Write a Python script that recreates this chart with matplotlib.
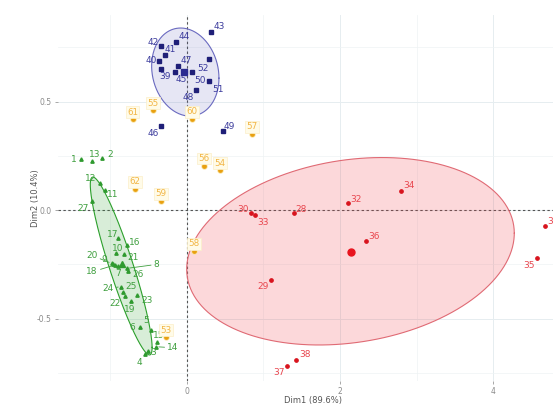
import numpy as np
import matplotlib
matplotlib.use("Agg")
import matplotlib.pyplot as plt

# ---------------- data ----------------
green_ids = list(range(1, 28))
green_x = [-1.386, -1.107, -0.510, -0.549, -0.471, -0.614, -0.902, -0.788, -0.967, -0.932,
           -1.072, -1.137, -1.238, -0.405, -0.396, -0.788, -0.898, -0.941, -0.732, -0.984,
           -0.820, -0.810, -0.658, -0.863, -0.833, -0.767, -1.246]
green_y = [0.235, 0.238, -0.650, -0.664, -0.553, -0.539, -0.258, -0.269, -0.249, -0.200,
           0.092, 0.123, 0.227, -0.630, -0.607, -0.161, -0.130, -0.253, -0.418, -0.246,
           -0.203, -0.396, -0.392, -0.353, -0.376, -0.280, 0.043]

red_ids = list(range(28, 39))
red_x = [1.403, 1.098, 0.837, 4.680, 2.108, 0.889, 2.797, 4.579, 2.340, 1.303, 1.421]
red_y = [-0.015, -0.323, -0.015, -0.074, 0.031, -0.023, 0.089, -0.223, -0.143, -0.718, -0.691]

blue_ids = list(range(39, 53))
blue_x = [-0.340, -0.366, -0.284, -0.340, 0.310, -0.144, -0.153, -0.344, -0.122, 0.114,
          0.467, 0.069, 0.288, 0.288]
blue_y = [0.650, 0.687, 0.714, 0.756, 0.822, 0.773, 0.637, 0.387, 0.665, 0.552,
          0.365, 0.635, 0.594, 0.696]

orange_ids = list(range(53, 63))
orange_x = [-0.275, 0.427, -0.441, 0.218, 0.850, 0.092, -0.340, 0.069, -0.710, -0.676]
orange_y = [-0.587, 0.183, 0.459, 0.204, 0.350, -0.189, 0.041, 0.419, 0.418, 0.097]

centroid_x = {"green": -0.846, "blue": -0.043, "red": 2.140}
centroid_y = {"green": -0.249, "blue": 0.637, "red": -0.192}

# ellipse parameters: centre, half-width, half-height, y-offset at rightmost point
ellipses = {
    "green": (-0.86, -0.258, 0.404, 0.410, -0.375),
    "blue": (-0.022, 0.636, 0.440, 0.203, -0.028),
    "red": (2.137, -0.190, 2.141, 0.432, 0.083),
}

x_ticks = [0, 2, 4]
x_tick_labels = ["0", "2", "4"]
y_ticks = [-0.5, 0.0, 0.5]
y_tick_labels = ["-0.5", "0.0", "0.5"]
x_title = "Dim1 (89.6%)"
y_title = "Dim2 (10.4%)"

# label offsets in pixels (dx right, dy down)
label_off = {
    1: (-7, 0), 2: (8, -4), 3: (5, 1), 4: (-6, 8), 5: (-5, -10), 6: (-8, 1), 7: (0, 7),
    8: (30, -4), 9: (-9, -5), 10: (2, -5), 11: (8, 4), 12: (-9, -5), 13: (2, -6),
    14: (17, 1), 15: (2, -6), 16: (8, -2), 17: (-6, -4), 18: (-23, 7), 19: (-1, 9),
    20: (-20, -8), 21: (9, 3), 22: (-10, 8), 23: (10, 5), 24: (-13, 2), 25: (8, -5),
    26: (10, 4), 27: (-9, 8),
    28: (7, -4), 29: (-8, 6), 30: (-8, -4), 31: (8, -5), 32: (8, -4), 33: (8, 7),
    34: (8, -5), 35: (-8, 7), 36: (8, -5), 37: (-8, 7), 38: (9, -5),
    39: (4, 7), 40: (-8, 0), 41: (5, -6), 42: (-8, -4), 43: (9, -5), 44: (8, -6),
    45: (6, 8), 46: (-7, 7), 47: (9, -5), 48: (-7, 7), 49: (7, -4), 50: (8, 8),
    51: (9, 8), 52: (-6, 9),
}
leader_ids = {8, 14, 18, 20, 24}

# ---------------- style ----------------
col = {
    "green": ("#2f9a2f", "#3f9f3f", "#2ca02c"),
    "blue": ("#1f1f78", "#3b3b9c", "#6a6ac0"),
    "red": ("#d8141e", "#e8464e", "#e06a74"),
    "orange": ("#e8a010", "#f2b544", None),
}
fills = {"green": "#2ca02c", "blue": "#5a5ab8", "red": "#f0404a"}
alphas = {"green": 0.18, "blue": 0.15, "red": 0.2}

W, H = 553, 405
fig = plt.figure(figsize=(W / 100, H / 100), dpi=100)
left_px, right_px, top_px, bot_px = 58, 553, 15, 381
ax = fig.add_axes([left_px / W, 1 - bot_px / H, (right_px - left_px) / W, (bot_px - top_px) / H])
ax.set_xlim(-1.686, 4.784)
ax.set_ylim(-0.788, 0.899)

for s in ax.spines.values():
    s.set_visible(False)

ax.set_xticks(x_ticks)
ax.set_xticklabels(x_tick_labels)
ax.set_yticks(y_ticks)
ax.set_yticklabels(y_tick_labels)
ax.set_xticks([-1, 1, 3], minor=True)
ax.set_yticks([-0.75, -0.25, 0.25, 0.75], minor=True)
ax.tick_params(which="major", length=2.5, width=0.6, color="#9a9a9a", labelsize=5.5,
               labelcolor="#8a8a8a", pad=2)
ax.tick_params(which="minor", length=0)
ax.grid(which="major", color="#e6edf0", lw=0.7)
ax.grid(which="minor", color="#eef3f4", lw=0.5)
ax.set_axisbelow(True)

ax.axhline(0, color="#555555", lw=0.8, ls=(0, (2.2, 2.2)), zorder=1)
ax.axvline(0, color="#555555", lw=0.8, ls=(0, (2.2, 2.2)), zorder=1)

ax.set_xlabel(x_title, fontsize=6, color="#555555")
ax.set_ylabel(y_title, fontsize=6, color="#555555")
ax.xaxis.set_label_coords((313 - left_px) / (right_px - left_px), -14.5 / (bot_px - top_px))
ax.yaxis.set_label_coords((40 - left_px) / (right_px - left_px), 0.5)

t = np.linspace(0, 2 * np.pi, 300)
for key, (cx, cy, hw, hh, a) in ellipses.items():
    b = np.sqrt(hh ** 2 - a ** 2)
    ex = cx + hw * np.cos(t)
    ey = cy + a * np.cos(t) + b * np.sin(t)
    ax.fill(ex, ey, facecolor=fills[key], alpha=alphas[key], edgecolor="none", zorder=2)
    ax.plot(ex, ey, color=col[key][2], lw=0.8, zorder=3)

def px2pt(dx, dy):
    return dx * 0.72, -dy * 0.72

groups = [
    ("green", green_ids, green_x, green_y, "^", 2.4),
    ("red", red_ids, red_x, red_y, "o", 2.4),
    ("blue", blue_ids, blue_x, blue_y, "s", 2.2),
]
for key, ids, xs, ys, mk, ms in groups:
    ax.plot(xs, ys, ls="none", marker=mk, ms=ms, color=col[key][0], zorder=4)
    for i, x, y in zip(ids, xs, ys):
        dx, dy = label_off[i]
        ox, oy = px2pt(dx, dy)
        ap = None
        if i in leader_ids:
            ap = dict(arrowstyle="-", color=col[key][1], lw=0.6, shrinkA=0, shrinkB=2)
        ax.annotate(str(i), (x, y), xytext=(ox, oy), textcoords="offset points",
                    ha="center", va="center", fontsize=6.5, color=col[key][1],
                    arrowprops=ap, zorder=5, annotation_clip=False)

ax.plot(orange_x, orange_y, ls="none", marker="o", ms=3.6, color="#fbe3a0", zorder=4)
ax.plot(orange_x, orange_y, ls="none", marker="o", ms=2.4, color=col["orange"][0], zorder=4)
for i, x, y in zip(orange_ids, orange_x, orange_y):
    ax.annotate(str(i), (x, y), xytext=(0, 5.2), textcoords="offset points",
                ha="center", va="center", fontsize=6.3, color=col["orange"][1], zorder=5,
                bbox=dict(boxstyle="square,pad=0.15", fc="#fffbe8", ec="#fbefc8", lw=0.5))

ax.plot([centroid_x["green"]], [centroid_y["green"]], marker="^", ms=5, color=col["green"][0], zorder=5)
ax.plot([centroid_x["blue"]], [centroid_y["blue"]], marker="s", ms=5, color="#2a2a90", zorder=5)
ax.plot([centroid_x["red"]], [centroid_y["red"]], marker="o", ms=5, color="#e8141e", zorder=5)

fig.savefig("out.png", dpi=100)
